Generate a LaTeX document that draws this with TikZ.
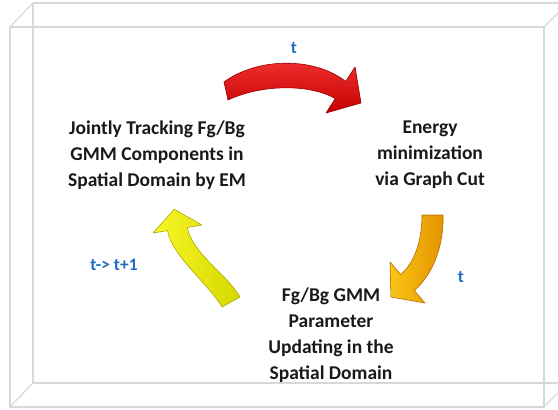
\documentclass[tikz,border=0pt]{standalone}
\usepackage{fontspec}
\setmainfont{Carlito}
\usepackage{tikz}
\usetikzlibrary{positioning}
\definecolor{boxgrey}{RGB}{216,216,216}
\definecolor{txtdark}{RGB}{25,25,25}
\definecolor{tblue}{RGB}{28,110,196}
\definecolor{redhi}{RGB}{244,50,50}
\definecolor{redlo}{RGB}{196,0,0}
\definecolor{rededge}{RGB}{150,0,0}
\definecolor{goldhi}{RGB}{250,198,20}
\definecolor{goldlo}{RGB}{228,146,0}
\definecolor{goldedge}{RGB}{176,110,0}
\definecolor{yelhi}{RGB}{248,248,40}
\definecolor{yello}{RGB}{214,214,0}
\definecolor{yeledge}{RGB}{170,170,0}
\tikzset{
  stage/.style={align=center, inner sep=0pt, text=txtdark,
    font=\fontsize{19.5}{26}\selectfont\bfseries},
  timelabel/.style={inner sep=0pt, text=tblue,
    font=\fontsize{17.5}{20}\selectfont\bfseries},
  boxline/.style={draw=boxgrey, line width=1.2pt},
  redarrow/.style={top color=redhi, bottom color=redlo, draw=rededge,
    line width=0.6pt, line join=round},
  goldarrow/.style={left color=goldhi, right color=goldlo, draw=goldedge,
    line width=0.6pt, line join=round},
  yelarrow/.style={left color=yelhi, right color=yello, draw=yeledge,
    line width=0.6pt, line join=round}
}

\begin{document}
\begin{tikzpicture}[x=1pt, y=-1pt]
  \useasboundingbox (0,0) rectangle (558,410);
  % open box drawn in perspective
  \begin{scope}
    \clip (0,0) rectangle (558,410);
    \draw[boxline] (33,3) -- (570,3);
    \draw[boxline] (33,3) -- (33,383) -- (570,383);
    \draw[boxline] (10,27) rectangle (544,407);
    \draw[boxline] (10,27) -- (33,3);
    \draw[boxline] (10,407) -- (33,383);
    \draw[boxline] (544,27) -- (568,3);
    \draw[boxline] (544,407) -- (568,383);
  \end{scope}
  % the three stages of the loop
  \node[stage] (track) at (157,155) {Jointly Tracking Fg/Bg\\GMM Components in\\Spatial Domain by EM};
  \node[stage] (energy) at (430,155) {Energy\\minimization\\via Graph Cut};
  \node[stage] (update) at (331,335) {Fg/Bg GMM\\Parameter\\Updating in the\\Spatial Domain};
  % curved block arrows
  \draw[redarrow] (224,82) .. controls (258,57) and (315,57) .. (345.7,81.5)
    -- (355,67) -- (361,103) -- (326,113) -- (335.3,98.5)
    .. controls (310,84) and (262,84) .. (228,100) -- cycle;
  \draw[goldarrow] (443,215) .. controls (444,245) and (433.3,274.3) .. (414.3,290.5)
    -- (425,303) -- (391,297) -- (390,262) -- (400.7,274.5)
    .. controls (415.9,261.5) and (422,238) .. (422,215) -- cycle;
  \draw[yelarrow] (222,307) .. controls (209.8,285.3) and (171,255) .. (167.6,230.6)
    -- (153,233) -- (174.3,209.3) -- (202,225) -- (187.4,227.4)
    .. controls (191,252) and (227.8,275.3) .. (240,297) -- cycle;
  % time step labels
  \node[timelabel] (tfirst) at (294,48) {t};
  \node[timelabel] (tsecond) at (461,277) {t};
  \node[timelabel] (tnext) at (114,265) {t-> t+1};
\end{tikzpicture}
\end{document}
